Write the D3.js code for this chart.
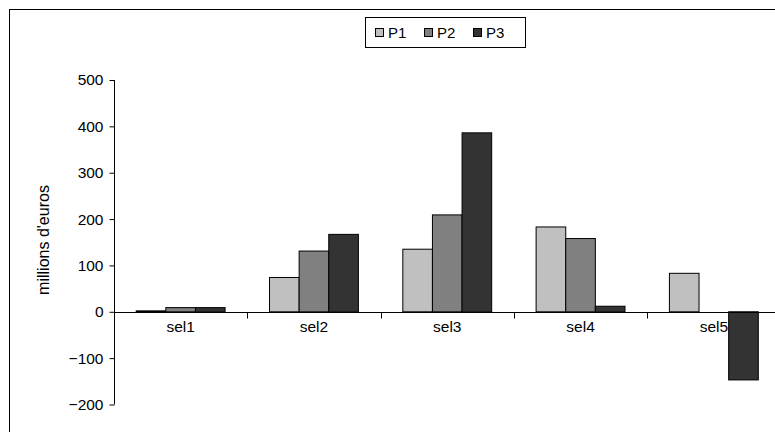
<!DOCTYPE html>
<html><head><meta charset="utf-8">
<script src="https://cdn.jsdelivr.net/npm/d3@7"></script>
<style>body{margin:0;background:#fff;}svg{display:block;font-family:Arial,"Liberation Sans",sans-serif;}</style>
</head><body>
<script>
const categories = ["sel1","sel2","sel3","sel4","sel5"];
const seriesNames = ["P1","P2","P3"];
const P1 = [2, 74, 135, 183, 83];
const P2 = [9, 131, 209, 158, 0];
const P3 = [9, 167, 386, 12, -147];
const yTicks = [-200,-100,0,100,200,300,400,500];
const colors = ["#c0c0c0","#808080","#333333"];
const values = [P1,P2,P3];

const W=775,H=432;
const svg=d3.select("body").append("svg").attr("width",W).attr("height",H);
svg.append("rect").attr("x",9.5).attr("y",9.5).attr("width",800).attr("height",500)
  .attr("fill","#fff").attr("stroke","#000").attr("stroke-width",1);

const y=d3.scaleLinear().domain([-200,500]).range([404.5,80]);
const x=d3.scaleBand().domain(categories).range([114,780.5]);
const xs=d3.scaleBand().domain(seriesNames).range([x.bandwidth()/6, x.bandwidth()*5/6]);

// bars
seriesNames.forEach((s,si)=>{
  svg.append("g").selectAll("rect").data(categories.map((c,i)=>({c,v:values[si][i]})))
   .join("rect")
   .filter(d=>d.v!==0)
   .attr("x",d=>x(d.c)+xs(s))
   .attr("width",xs.bandwidth())
   .attr("y",d=>y(Math.max(0,d.v)))
   .attr("height",d=>Math.abs(y(d.v)-y(0)))
   .attr("fill",colors[si]).attr("stroke","#000").attr("stroke-width",1);
});

// y axis
const ya=svg.append("g").attr("transform","translate(114.5,0)")
  .call(d3.axisLeft(y).tickValues(yTicks).tickSize(5).tickPadding(6).tickFormat(d3.format("d")));
ya.selectAll("text").attr("font-size",15.5).attr("fill","#000").attr("font-family","Arial, 'Liberation Sans', sans-serif");
ya.selectAll("line,path").attr("stroke","#000");
ya.select(".domain").attr("d","M0,"+y(500)+"V"+y(-200));

// x axis at zero
const xa=svg.append("g").attr("transform","translate(0,"+(Math.round(y(0))+0.5)+")");
xa.append("line").attr("x1",114).attr("x2",780).attr("stroke","#000");
xa.selectAll("line.tk").data(categories.slice(1)).join("line").attr("class","tk")
  .attr("x1",d=>Math.round(x(d))+0.5).attr("x2",d=>Math.round(x(d))+0.5).attr("y1",0).attr("y2",6).attr("stroke","#000");
xa.selectAll("text").data(categories).join("text")
  .attr("x",d=>x(d)+x.bandwidth()/2).attr("y",19).attr("text-anchor","middle")
  .attr("font-size",15.5).attr("fill","#000").text(d=>d);

// y title
svg.append("text").attr("transform","translate(49,240) rotate(-90)").attr("text-anchor","middle")
  .attr("font-size",16).attr("fill","#000").text("millions d'euros");

// legend
const lg=svg.append("g");
lg.append("rect").attr("x",365.5).attr("y",17.5).attr("width",160).attr("height",30).attr("fill","#fff").attr("stroke","#000");
seriesNames.forEach((s,i)=>{
  const gx=375+i*49;
  lg.append("rect").attr("x",gx+0.5).attr("y",28.5).attr("width",8).attr("height",8).attr("fill",colors[i]).attr("stroke","#000");
  lg.append("text").attr("x",gx+13).attr("y",38).attr("font-size",15).attr("fill","#000").text(s);
});
</script>
</body></html>
